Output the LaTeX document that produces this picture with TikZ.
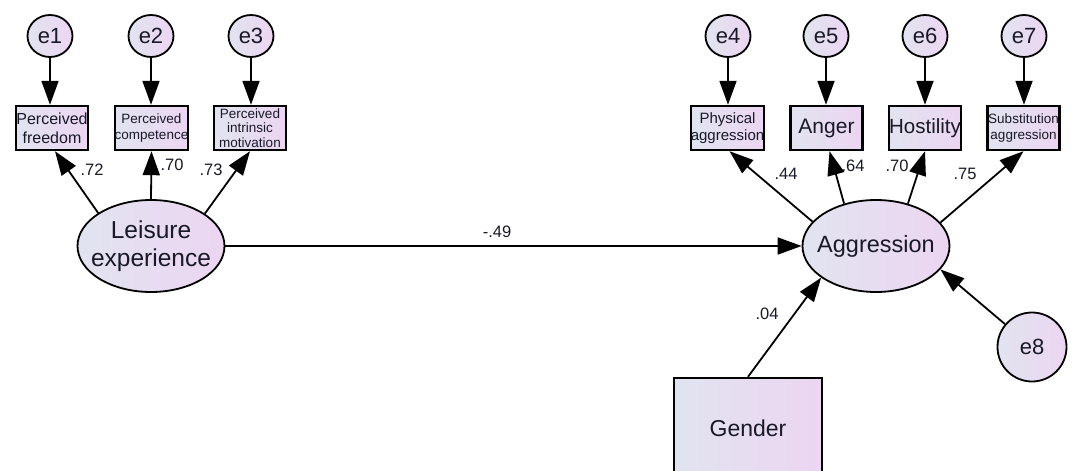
\documentclass[tikz,border=0pt]{standalone}
\usepackage{fontspec}
\setmainfont{Liberation Sans}
\usetikzlibrary{shapes.geometric,arrows.meta}
\definecolor{lcol}{RGB}{225,228,240}
\definecolor{rcol}{RGB}{236,213,241}
\definecolor{txt}{RGB}{25,25,40}
\newcommand{\fs}[2]{\fontsize{#1}{#2}\selectfont}
\begin{document}
\begin{tikzpicture}[x=1pt,y=-1pt,
  shade/.style={left color=lcol,right color=rcol,text=txt},
  lat/.style={ellipse,draw,line width=1.8pt,shade,inner xsep=-22pt,inner ysep=0pt,minimum width=147,minimum height=92,align=center},
  err/.style={ellipse,draw,line width=1.8pt,shade,inner sep=0,minimum width=45,minimum height=42,font=\fs{22}{24}},
  obs/.style={rectangle,draw,line width=2.4pt,shade,inner sep=0,minimum width=72,minimum height=44,align=center},
  arr/.style={-{Triangle[length=24pt,width=17pt]},line width=1.8pt},
  lab/.style={font=\fs{16.5}{18},text=txt,inner sep=0}]
\useasboundingbox (0,0) rectangle (1074,471);
\begin{scope}
\clip (0,0) rectangle (1074,471);
% error terms
\node[err] (e1) at (50,36) {e1};
\node[err] (e2) at (151,36) {e2};
\node[err] (e3) at (251,36) {e3};
\node[err] (e4) at (728,36) {e4};
\node[err] (e5) at (826,36) {e5};
\node[err] (e6) at (925,36) {e6};
\node[err] (e7) at (1024,36) {e7};
\node[ellipse,draw,line width=1.8pt,shade,inner sep=0,minimum width=69,minimum height=69,font=\fs{22}{24}] (e8) at (1032,347) {e8};
% observed
\node[obs,font=\fs{16}{19}] (b1) at (52,128) {Perceived\\freedom};
\node[obs,font=\fs{13.5}{16}] (b2) at (151.5,128) {Perceived\\competence};
\node[obs,font=\fs{13.5}{14.5}] (b3) at (250,128) {Perceived\\intrinsic\\motivation};
\node[obs,font=\fs{15}{17}] (b4) at (727.5,128) {Physical\\aggression};
\node[obs,font=\fs{21}{23}] (b5) at (826.5,128) {Anger};
\node[obs,font=\fs{20.5}{23}] (b6) at (925,128) {Hostility};
\node[obs,font=\fs{13.5}{15.5}] (b7) at (1023.5,128) {Substitution\\aggression};
\node[obs,font=\fs{23}{25},minimum width=148,minimum height=100] (g) at (748,428) {Gender};
% latent
\node[lat,font=\fs{24.5}{28}] (le) at (151,246) {Leisure\\experience};
\node[lat,font=\fs{23.5}{26}] (ag) at (876,246) {Aggression};
% error arrows
\foreach \e/\b in {e1/b1,e2/b2,e3/b3,e4/b4,e5/b5,e6/b6,e7/b7}
  \draw[arr] (\e.south) -- (\e.south |- \b.north);
% loadings
\draw[arr] (le.148) -- ([xshift=3pt]b1.south);
\draw[arr] (le.north) -- (b2.south);
\draw[arr] (le.31) -- (b3.south);
\draw[arr] (ag.159) -- ([xshift=2pt]b4.south);
\draw[arr] (ag.127) -- ([xshift=3pt]b5.south);
\draw[arr] (ag.53) -- (b6.south);
\draw[arr] (ag.20) -- (b7.south);
% structural
\draw[arr] (le.east) -- (ag.west);
\draw[arr] (g.north) -- (ag.210);
\draw[arr] (e8) -- (ag.-20);
% labels
\node[lab] (l1) at (92,170) {.72};
\node[lab] (l2) at (172,165) {.70};
\node[lab] (l3) at (211,170) {.73};
\node[lab] (l4) at (786,174) {.44};
\node[lab] (l5) at (853,166) {.64};
\node[lab] (l6) at (897,166) {.70};
\node[lab] (l7) at (965,174) {.75};
\node[lab] (l8) at (497,232) {-.49};
\node[lab] (l9) at (767,314) {.04};
\end{scope}
\end{tikzpicture}
\end{document}
